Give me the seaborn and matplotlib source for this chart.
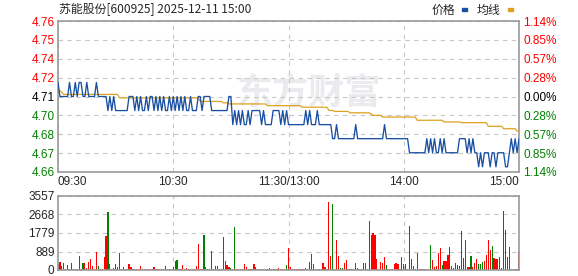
import numpy as np
import pandas as pd
import matplotlib
matplotlib.use("Agg")
import matplotlib.pyplot as plt
from matplotlib.patches import Rectangle
import seaborn as sns

# ---------------- data ----------------
TITLE = "苏能股份[600925] 2025-12-11 15:00"
LEGEND_NAMES = ["价格", "均线"]
WATERMARK = "东方财富"
prev_close = 4.71
pct_range = 1.14
price_tick_labels = ["4.66", "4.67", "4.68", "4.70", "4.71", "4.72", "4.74", "4.75", "4.76"]
pct_tick_labels = ["1.14%", "0.85%", "0.57%", "0.28%", "0.00%", "0.28%", "0.57%", "0.85%", "1.14%"]
time_tick_minutes = [0, 60, 120, 180, 240]
time_tick_labels = ["09:30", "10:30", "11:30/13:00", "14:00", "15:00"]
vol_tick_values = [0, 889, 1779, 2668, 3557]
vol_tick_labels = ["0", "889", "1779", "2668", "3557"]

# minute price, run-length form (level, number of minutes)
price_levels = [4.72, 4.71, 4.72, 4.71, 4.72, 4.71, 4.72, 4.71, 4.72, 4.71, 4.72, 4.71,
                4.70, 4.71, 4.70, 4.71, 4.70, 4.71, 4.70, 4.71, 4.70, 4.71, 4.70, 4.71,
                4.70, 4.71, 4.70, 4.71, 4.70, 4.71, 4.70, 4.71, 4.70, 4.71, 4.70, 4.71,
                4.70, 4.71, 4.70, 4.71, 4.70, 4.71, 4.70, 4.71, 4.70, 4.71, 4.70, 4.71,
                4.70, 4.71,
                4.69, 4.70, 4.69, 4.70, 4.69, 4.70, 4.69, 4.70, 4.69, 4.70, 4.69, 4.70,
                4.69, 4.70, 4.69, 4.70, 4.69, 4.70, 4.69, 4.70, 4.69, 4.70, 4.69, 4.70,
                4.69,
                4.68, 4.69, 4.68, 4.69, 4.68, 4.69, 4.68,
                4.67, 4.68, 4.67, 4.68, 4.67, 4.68, 4.67, 4.68, 4.67, 4.68, 4.67, 4.68,
                4.67, 4.68, 4.67, 4.68, 4.67,
                4.66, 4.67, 4.66, 4.67, 4.66, 4.67, 4.66, 4.67, 4.66,
                4.67, 4.68, 4.67, 4.68, 4.67, 4.68]
price_counts = [1, 5, 1, 2, 1, 1, 2, 2, 1, 4, 1, 5,
                1, 1, 1, 1, 7, 3, 1, 1, 1, 1, 2, 1,
                1, 2, 1, 1, 1, 1, 1, 1, 2, 1, 1, 1,
                1, 1, 1, 1, 1, 1, 2, 1, 3, 2, 1, 4,
                9, 2,
                1, 1, 1, 1, 1, 1, 2, 1, 1, 5, 1, 1,
                4, 4, 1, 1, 1, 1, 9, 1, 1, 1, 3, 1,
                7,
                2, 1, 9, 1, 14, 1, 12,
                9, 1, 1, 1, 1, 1, 2, 1, 1, 1, 7, 4,
                1, 1, 1, 1, 2,
                1, 1, 1, 3, 1, 2, 1, 4, 2,
                1, 1, 1, 1, 1, 1]

# average price line, run-length form
avg_levels = [4.716, 4.714, 4.713, 4.7115, 4.709, 4.7065, 4.7055, 4.7047, 4.7035,
              4.7024, 4.7001, 4.6994, 4.6984, 4.6977, 4.6966, 4.6954, 4.6931,
              4.6919, 4.6914, 4.6888, 4.6871, 4.6855]
avg_counts = [1, 1, 1, 29, 42, 12, 3, 20, 18,
              14, 3, 8, 11, 1, 5, 18, 14,
              9, 14, 8, 7, 2]

# minute volume (lots), 241 values
volume = [300, 400, 192, 320, 50, 240, 60, 336, 50, 40, 50, 672, 50, 336, 336, 112, 384, 528, 192, 50,
          880, 192, 50, 50, 624, 1650, 2785, 304, 50, 96, 288, 144, 832, 50, 128, 40, 50, 288, 144, 50,
          40, 60, 50, 208, 50, 40, 50, 60, 40, 50, 144, 50, 40, 50, 60, 40, 192, 50, 40, 50,
          160, 448, 496, 50, 60, 240, 50, 112, 50, 40, 50, 60, 192, 1248, 50, 60, 1696, 160, 50, 60,
          928, 50, 176, 192, 50, 40, 1584, 448, 224, 128, 96, 50, 2064, 50, 40, 50, 60, 304, 144, 50,
          40, 50, 304, 128, 50, 40, 50, 60, 40, 50, 112, 50, 40, 50, 60, 96, 50, 40, 50, 240,
          1072, 160, 60, 50, 60, 50, 60, 50, 60, 96, 50, 384, 784, 288, 60, 50, 60, 48, 336, 144,
          60, 3264, 660, 3168, 60, 1440, 672, 96, 96, 352, 480, 60, 50, 60, 50, 336, 96, 50, 60, 336,
          336, 60, 2352, 1680, 1792, 1680, 528, 60, 384, 336, 624, 240, 60, 50, 60, 288, 336, 288, 60, 624,
          288, 288, 60, 2112, 528, 192, 60, 816, 60, 50, 60, 50, 60, 50, 1200, 480, 144, 176, 816, 1056,
          240, 448, 432, 720, 1104, 192, 96, 336, 240, 192, 1872, 576, 1440, 144, 144, 672, 144, 336, 528, 288,
          288, 384, 432, 720, 1440, 960, 1152, 576, 528, 528, 624, 80, 2832, 1920, 624, 1104, 60, 60, 60, 60,
          912]
# minutes whose volume bar is green (down tick)
down_minutes = [7, 8, 13, 21, 26, 29, 62, 76, 90, 92, 119, 137, 143, 147, 148, 156, 171,
                183, 194, 200, 211, 215, 219, 220, 221, 226, 233]

# ---------------- build frames ----------------
price = np.repeat(price_levels, price_counts)
avg = np.repeat(avg_levels, avg_counts)
minutes = np.arange(len(volume))
assert len(price) == len(volume) == len(avg), (len(price), len(avg), len(volume))
df = pd.DataFrame({"minute": minutes, "price": price, "avg": avg})
down_set = set(down_minutes)
dfv = pd.DataFrame({"minute": minutes, "volume": volume,
                    "dir": ["down" if m in down_set else "up" for m in minutes]})

# ---------------- style ----------------
sns.set_style("white")
plt.rcParams["font.family"] = ["Liberation Sans", "Noto Sans CJK SC", "DejaVu Sans"]
plt.rcParams["font.size"] = 8.5

W, H = 578, 276
L, R = 58, 519
fig = plt.figure(figsize=(W / 100, H / 100), dpi=100)
ax = fig.add_axes([L / W, 1 - 172 / H, (R - L) / W, (172 - 21) / H])
axv = fig.add_axes([L / W, 1 - 270 / H, (R - L) / W, (270 - 196) / H])

lo = prev_close * (1 - pct_range / 100)
hi = prev_close * (1 + pct_range / 100)

sns.lineplot(data=df, x="minute", y="avg", ax=ax, color="#dea21f", lw=0.9,
             errorbar=None, zorder=3)
sns.lineplot(data=df, x="minute", y="price", ax=ax, color="#1a50a2", lw=0.95,
             errorbar=None, zorder=4)

sns.barplot(data=dfv, x="minute", y="volume", hue="dir",
            palette={"up": "#ff0000", "down": "#008000"}, hue_order=["up", "down"],
            native_scale=True, dodge=False, width=0.62, saturation=1,
            legend=False, linewidth=0, ax=axv)
for p in axv.patches:
    p.set_antialiased(False)

ax.text(309 / W, 1 - 93 / H, WATERMARK, transform=fig.transFigure, ha="center",
        va="center", fontsize=26, fontweight="bold", color="#ebebef", zorder=0.5,
        family=["Noto Sans CJK SC", "DejaVu Sans"])

tick_colors = ["#008000"] * 4 + ["#000000"] + ["#ff0000"] * 4
yt = np.linspace(lo, hi, 9)

for a in (ax, axv):
    a.set_axisbelow(True)
    a.grid(True, color="#c8c8c8", lw=0.8, ls=(0, (4, 4)))
    for s in a.spines.values():
        s.set_visible(True)
        s.set_color("#999999")
        s.set_linewidth(1.2)
    a.tick_params(length=0, pad=2.5, labelsize=8.5)
    a.set_xlabel("")
    a.set_ylabel("")
    a.set_xlim(0, 240)

ax.set_ylim(lo, hi)
ax.set_yticks(yt, labels=price_tick_labels)
for lbl, c in zip(ax.get_yticklabels(), tick_colors):
    lbl.set_color(c)
ax.set_xticks(time_tick_minutes, labels=time_tick_labels)
xl = ax.get_xticklabels()
xl[0].set_ha("left")
xl[-1].set_ha("right")
ax.tick_params(axis="x", pad=3)

ax2 = ax.twinx()
ax2.set_ylim(lo, hi)
ax2.set_yticks(yt, labels=pct_tick_labels)
ax2.tick_params(length=0, pad=3, labelsize=8.5)
for s in ax2.spines.values():
    s.set_visible(False)
for lbl, c in zip(ax2.get_yticklabels(), tick_colors):
    lbl.set_color(c)
ax2.grid(False)

axv.set_ylim(0, vol_tick_values[-1])
axv.set_yticks(vol_tick_values, labels=vol_tick_labels)
axv.set_xticks(time_tick_minutes[1:-1], labels=[])
axv.set_xlim(0, 240)

# title and legend
fig.text(59 / W, 1 - 10 / H, TITLE, ha="left", va="center", fontsize=8.6,
         family=["Noto Sans CJK SC", "DejaVu Sans"])
fig.text(432 / W, 1 - 10 / H, LEGEND_NAMES[0], ha="left", va="center", fontsize=8.6,
         family=["Noto Sans CJK SC", "DejaVu Sans"])
fig.text(477 / W, 1 - 10 / H, LEGEND_NAMES[1], ha="left", va="center", fontsize=8.6,
         family=["Noto Sans CJK SC", "DejaVu Sans"])
fig.patches.append(Rectangle((462 / W, 1 - 11 / H), 5 / W, 3 / H, transform=fig.transFigure,
                             color="#1a50a2", figure=fig))
fig.patches.append(Rectangle((508 / W, 1 - 11 / H), 5 / W, 3 / H, transform=fig.transFigure,
                             color="#dea21f", figure=fig))

fig.savefig("out.png", dpi=100)
